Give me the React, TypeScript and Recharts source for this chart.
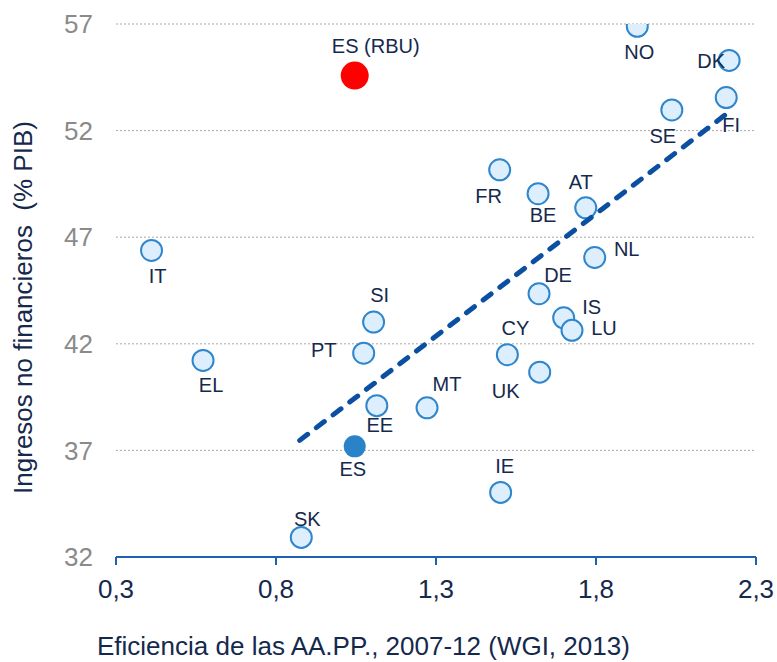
import React from 'react';
import { ScatterChart, Scatter, XAxis, YAxis, CartesianGrid } from 'recharts';

// ---- Data ----
const countries = ['IT', 'EL', 'SK', 'PT', 'SI', 'EE', 'MT', 'FR', 'IE', 'CY', 'BE', 'DE', 'UK', 'IS', 'LU', 'AT', 'NL', 'NO', 'SE', 'FI', 'DK'];
const efficiency = [0.411, 0.572, 0.879, 1.074, 1.105, 1.115, 1.272, 1.499, 1.502, 1.523, 1.619, 1.622, 1.624, 1.699, 1.725, 1.768, 1.796, 1.929, 2.037, 2.207, 2.216];
const revenue = [46.38, 41.22, 32.92, 41.56, 43.02, 39.1, 39.0, 50.16, 35.03, 41.49, 49.04, 44.35, 40.67, 43.22, 42.63, 48.38, 46.05, 56.89, 52.97, 53.55, 55.29];

const esName = ['ES'];
const esX = [1.046];
const esY = [37.19];

const rbuName = ['ES (RBU)'];
const rbuX = [1.046];
const rbuY = [54.58];

const trendX = [0.874, 2.218];
const trendY = [37.47, 52.9];

const xTicks = [0.3, 0.8, 1.3, 1.8, 2.3];
const yTicks = [32, 37, 42, 47, 52, 57];

const xTitle = 'Eficiencia de las AA.PP., 2007-12 (WGI, 2013)';
const yTitle = 'Ingresos no financieros  (% PIB)';

// ---- Layout (label placement relative to the marker, in px) ----
const labelOffsets: Record<string, [number, number]> = {
  IT: [6, 25], EL: [8, 24], SK: [6, -18], PT: [-40, -3], SI: [6, -27], EE: [3, 19],
  MT: [20, -24], FR: [-11, 26], IE: [4, -27], CY: [8, -27], BE: [5, 21], DE: [19, -19],
  UK: [-34, 19], IS: [28, -11], LU: [32, -2], AT: [-5, -26], NL: [32, -9], NO: [2, 26],
  SE: [-9, 26], FI: [5, 27], DK: [-18, 0], ES: [-2, 23], 'ES (RBU)': [21, -30],
};

const build = (names: string[], xs: number[], ys: number[]) =>
  names.map((n, i) => ({ name: n, x: xs[i], y: ys[i] }));

const mainData = build(countries, efficiency, revenue);
const esData = build(esName, esX, esY);
const rbuData = build(rbuName, rbuX, rbuY);
const trendData = trendX.map((x, i) => ({ x, y: trendY[i] }));

const LABEL_COLOR = '#15294d';

const makeShape = (r: number, fill: string, stroke: string, strokeWidth: number) => (props: any) => {
  const { cx, cy, payload } = props;
  const off = labelOffsets[payload.name] || [0, 0];
  return (
    <g>
      <circle cx={cx} cy={cy} r={r} fill={fill} stroke={stroke} strokeWidth={strokeWidth} />
      <text
        x={cx + off[0]}
        y={cy + off[1]}
        dy="0.355em"
        textAnchor="middle"
        fontSize={20}
        fill={LABEL_COLOR}
      >
        {payload.name}
      </text>
    </g>
  );
};

const fmt = (v: number) => v.toFixed(1).replace('.', ',');

export default function App() {
  return (
    <div
      style={{
        position: 'absolute',
        left: 0,
        top: 0,
        width: 777,
        height: 662,
        background: '#ffffff',
        fontFamily: '"Liberation Sans", Arial, sans-serif',
      }}
    >
      <ScatterChart width={777} height={662} margin={{ top: 24, right: 21, bottom: 45, left: 0 }}>
        <CartesianGrid vertical={false} stroke="#a9a9a9" strokeDasharray="2 2" />
        <XAxis
          type="number"
          dataKey="x"
          domain={[0.3, 2.3]}
          ticks={xTicks}
          allowDataOverflow
          tickFormatter={fmt}
          axisLine={{ stroke: '#1f60b0', strokeWidth: 2 }}
          tickLine={{ stroke: '#1f60b0', strokeWidth: 2 }}
          tickSize={8}
          tickMargin={15}
          height={60}
          tick={{ fill: LABEL_COLOR, fontSize: 26 }}
        />
        <YAxis
          type="number"
          dataKey="y"
          domain={[32, 57]}
          ticks={yTicks}
          allowDataOverflow
          axisLine={false}
          tickLine={false}
          tickSize={0}
          tickMargin={23}
          width={116}
          tick={{ fill: '#8a8a8a', fontSize: 26 }}
        />
        <Scatter
          data={mainData}
          isAnimationActive={false}
          shape={makeShape(10.5, '#ddefff', '#2f86cc', 2)}
        />
        <Scatter
          data={esData}
          isAnimationActive={false}
          shape={makeShape(11, '#2a82c8', '#2a82c8', 0)}
        />
        <Scatter
          data={rbuData}
          isAnimationActive={false}
          shape={makeShape(14, '#ff0000', '#ff0000', 0)}
        />
        <Scatter
          data={trendData}
          isAnimationActive={false}
          line={{ stroke: '#0b4fa3', strokeWidth: 5, strokeDasharray: '10 11', strokeLinecap: 'round' }}
          shape={() => <g />}
        />
      </ScatterChart>
      <svg
        width={777}
        height={662}
        style={{ position: 'absolute', left: 0, top: 0, pointerEvents: 'none' }}
      >
        <text x={97} y={655} fontSize={26} fill={LABEL_COLOR}>
          {xTitle}
        </text>
        <text
          x={32}
          y={307.5}
          fontSize={26}
          fill={LABEL_COLOR}
          textAnchor="middle"
          style={{ whiteSpace: 'pre' }}
          transform="rotate(-90, 32, 307.5)"
        >
          {yTitle}
        </text>
      </svg>
    </div>
  );
}
